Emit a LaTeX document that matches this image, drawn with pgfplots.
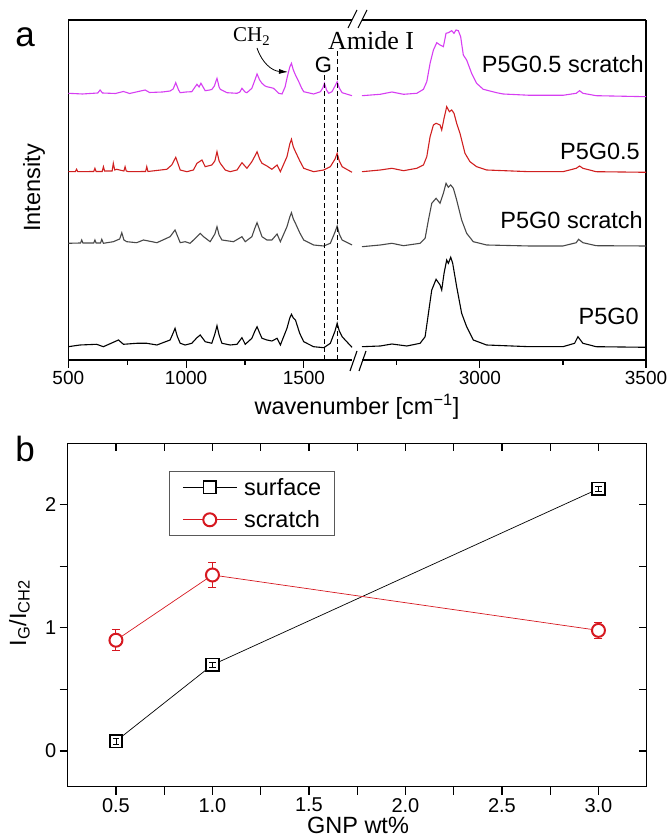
\documentclass[border=0pt]{standalone}
\usepackage{pgfplots}
\pgfplotsset{compat=1.18}
\usepackage{fontspec}
\setmainfont{Liberation Sans}
\newfontfamily\serifA{Liberation Serif}
\usetikzlibrary{arrows.meta}
\definecolor{magen}{RGB}{214,62,242}
\definecolor{redA}{RGB}{208,32,32}
\definecolor{grayA}{RGB}{72,72,72}
\definecolor{redB}{RGB}{214,24,32}
\newcommand\fs[1]{\fontsize{#1}{#1}\selectfont}
\pgfdeclareplotmark{sqinner}{%
  \pgfpathmoveto{\pgfpoint{0pt}{-0.5\pgfplotmarksize}}\pgfpathlineto{\pgfpoint{0pt}{0.5\pgfplotmarksize}}%
  \pgfpathmoveto{\pgfpoint{-0.5\pgfplotmarksize}{0.45\pgfplotmarksize}}\pgfpathlineto{\pgfpoint{0.5\pgfplotmarksize}{0.45\pgfplotmarksize}}%
  \pgfpathmoveto{\pgfpoint{-0.5\pgfplotmarksize}{-0.45\pgfplotmarksize}}\pgfpathlineto{\pgfpoint{0.5\pgfplotmarksize}{-0.45\pgfplotmarksize}}%
  \pgfusepathqstroke
}
\pgfplotsset{
  spec/.style={line width=1.1pt},
  /pgf/number format/1000 sep={},
}
\begin{document}
\begin{tikzpicture}[x=1pt,y=1pt]
\useasboundingbox (0,0) rectangle (670,838);

% ---------------- panel a, left part ----------------
\begin{axis}[
  at={(68.3pt,478pt)}, anchor=south west, scale only axis,
  width=283.7pt, height=340pt,
  xmin=500, xmax=1704, ymin=0, ymax=340, clip=false,
  axis x line*=bottom, axis y line*=left,
  axis line style={-, line width=1.3pt},
  xtick={500,1000,1500}, minor xtick={750,1250}, ytick=\empty,
  tick align=outside, major tick length=8pt, minor tick length=5pt,
  tick style={line width=1.1pt, black},
  xticklabel style={font=\fs{19}},
  /pgf/number format/assume math mode=true,
  scaled x ticks=false,
]
\draw[line width=1.3pt] (rel axis cs:0,1) -- (rel axis cs:1,1);
% P5G0.5 scratch
\addplot[spec, magen] coordinates {
(500,266.7)(560,266.0)(625,267)(635,270)(645,267)(700,266.5)(734,268.5)(760,266.5)(826,270)(845,267.5)(900,268)
(932,269)(945,271)(956,277.3)(968,270)(975,267.3)(1000,268)(1024,268.3)(1046,275.7)(1055,273)(1063,276.7)
(1081,269.3)(1100,270)(1109,270.5)(1120,274)(1131,281.7)(1140,273)(1145,270.7)(1173,267.3)(1216,266.7)
(1228,268)(1237,271.7)(1250,268)(1258,267.3)(1279,271.7)(1292,280)(1301,286)(1312,280)(1322,276.7)(1335,274)
(1343,273.3)(1371,271.7)(1393,266.7)(1407,266)(1420,273)(1428,281.7)(1440,293)(1447,296.7)(1455,290)(1464,285)
(1478,278.3)(1490,272)(1499,268.3)(1541,266)(1570,268.3)(1580,272)(1587,276.7)(1596,270)(1605,266.7)(1619,268.3)
(1632,274)(1641,278.3)(1650,272)(1662,267.3)(1704,264.3)};
% P5G0.5
\addplot[spec, redA] coordinates {
(500,188.3)(530,188.3)(535,190.7)(540,188.3)(608,188.5)(613,191.7)(618,188.5)(644,188.5)(649,193.3)(654,189)
(686,189)(691,196.7)(697,190)(705,190.7)(736,189)(741,193.3)(746,189)(755,188.3)(828,188.5)(833,193.3)(838,188.5)
(918,190.7)(939,195)(956,202.7)(975,190)(1003,188.3)(1031,190)(1046,196.7)(1067,200)(1081,193.3)(1109,195)
(1122,199)(1131,208.3)(1140,199)(1145,196.7)(1166,190)(1187,188.3)(1216,190)(1237,197.3)(1258,191.7)(1279,198.3)
(1292,204)(1301,208.3)(1312,201)(1322,196.7)(1343,194)(1364,190.7)(1386,195)(1400,188.3)(1428,203.3)(1440,216)
(1447,220.7)(1455,213)(1464,208.3)(1482,199.3)(1499,191.7)(1541,188.3)(1584,190)(1612,193.3)(1632,201)(1641,206.7)
(1650,199)(1662,193.3)(1704,187.7)};
% P5G0 scratch
\addplot[spec, grayA] coordinates {
(500,116.7)(552,117)(557,120)(562,117)(608,117)(613,120)(618,117)(637,117)(642,120.7)(649,116.7)(691,118.3)
(718,121)(727,127.3)(736,120)(748,118.3)(790,117.3)(819,120)(876,117.3)(932,123.3)(953,130)(975,117.3)(996,118.3)
(1017,116.7)(1046,123.3)(1060,126.7)(1074,123.3)(1102,118.3)(1122,126)(1131,133.3)(1140,125)(1152,120)(1201,118.3)
(1237,123.3)(1251,118.3)(1279,123.3)(1292,132)(1301,137.3)(1312,130)(1322,123.3)(1343,120)(1364,120)(1386,126)
(1400,118.3)(1428,133.3)(1440,143)(1447,147.3)(1455,141)(1464,136.7)(1482,127.3)(1499,120)(1541,115)(1584,114)
(1612,116.7)(1632,128)(1641,134)(1650,126)(1662,120)(1704,115)};
% P5G0
\addplot[spec, black] coordinates {
(500,13.3)(550,15)(620,15.7)(649,13.3)(713,20)(734,15.7)(790,16.7)(833,16.7)(876,15)(932,20)(945,27)(953,31.7)
(962,24)(975,16.7)(996,15)(1024,16.7)(1046,22.3)(1060,25)(1081,18.3)(1109,16.7)(1122,26)(1131,34.3)(1140,25)
(1152,16.7)(1187,15)(1216,15.7)(1237,22.3)(1251,15.7)(1279,21.7)(1292,29)(1301,33.3)(1312,27)(1322,21.7)(1343,20)
(1364,19)(1386,21.7)(1400,15)(1428,31.7)(1440,42)(1447,45.7)(1455,42)(1464,40)(1482,26.7)(1499,18.3)(1541,13.3)
(1584,12.3)(1612,16.7)(1632,29)(1641,36.7)(1650,29)(1662,23.3)(1704,12.7)};
\draw[dashed, dash pattern=on 5pt off 3pt, line width=1.1pt] (axis cs:1587,0) -- (axis cs:1587,288);
\draw[dashed, dash pattern=on 5pt off 3pt, line width=1.1pt] (axis cs:1643,0) -- (axis cs:1643,310);
\end{axis}

% ---------------- panel a, right part ----------------
\begin{axis}[
  at={(362pt,478pt)}, anchor=south west, scale only axis,
  width=284pt, height=340pt,
  xmin=2645, xmax=3500, ymin=0, ymax=340, clip=false,
  axis x line*=bottom, axis y line*=right,
  axis line style={-, line width=1.3pt},
  xtick={3000,3500}, minor xtick={2750,3250}, ytick=\empty,
  tick align=outside, major tick length=8pt, minor tick length=5pt,
  tick style={line width=1.1pt, black},
  xticklabel style={font=\fs{19}},
  /pgf/number format/assume math mode=true,
  scaled x ticks=false,
]
\draw[line width=1.3pt] (rel axis cs:0,1) -- (rel axis cs:1,1);
\addplot[spec, magen] coordinates {
(2645,264.3)(2700,265.7)(2735,268)(2770,265.7)(2810,266.7)(2830,270.7)(2840,278.3)(2850,296.7)(2860,310)(2870,317.3)
(2880,315)(2890,313.3)(2898,326.7)(2905,327.3)(2915,329.3)(2922,326.7)(2928,330)(2935,329.3)(2942,323.3)(2950,305)
(2960,300)(2975,286.7)(2990,276.7)(3010,270.7)(3050,267.3)(3070,266)(3150,264.7)(3250,264.7)(3290,266.7)(3300,269.3)
(3310,266.7)(3350,264.3)(3500,263.3)};
\addplot[spec, redA] coordinates {
(2645,188.3)(2700,190)(2735,191.7)(2770,189.3)(2810,191.7)(2830,195)(2840,203.3)(2850,223.3)(2860,235)(2868,236.7)
(2880,235)(2885,230)(2892,241.7)(2900,253.3)(2908,248.3)(2915,250)(2922,246.7)(2930,236.7)(2940,226.7)(2955,206.7)
(2970,198.3)(2990,193.3)(3020,190)(3150,188.3)(3250,188.3)(3290,191.7)(3300,194)(3310,191.7)(3350,188.3)(3500,187.7)};
\addplot[spec, grayA] coordinates {
(2645,113.3)(2700,115)(2735,116.7)(2770,114.3)(2820,116.7)(2835,121.7)(2845,140)(2855,156.7)(2868,161.7)(2880,156.7)
(2890,166.7)(2898,176.7)(2905,172.7)(2912,175)(2920,171.7)(2930,160)(2945,140)(2960,126.7)(2980,118.3)(3020,115)
(3150,114)(3250,114)(3290,117.3)(3297,120.7)(3310,117.3)(3350,114.3)(3500,114)};
\addplot[spec, black] coordinates {
(2645,13.3)(2700,14)(2735,16)(2780,14)(2820,16.7)(2835,23.3)(2845,46.7)(2855,70)(2868,80.7)(2880,75)(2885,70)
(2892,86.7)(2900,100)(2905,96.7)(2912,102.7)(2918,96.7)(2930,73.3)(2945,46.7)(2960,33.3)(2980,20)(3020,15)
(3150,13.3)(3250,13.3)(3285,16.7)(3295,23.3)(3310,16.7)(3350,13.3)(3500,12.7)};
\end{axis}

% break marks
\draw[line width=1.1pt] (348,810) -- (357,828) (358,810) -- (367,828);
\draw[line width=1.1pt] (350,467) -- (357,487) (359,467) -- (366,487);

% annotations panel a
\node[anchor=base, font=\fs{35}] at (25,791) {a};
\node[anchor=base west, font={\serifA\fs{21}}, inner sep=0pt] at (233,796) {CH\textsubscript{2}};
\draw[line width=0.8pt, -{Latex[length=9pt,width=5pt]}] (257,790) .. controls (262,775) and (272,767) .. (288,766);
\node[anchor=base west, font={\serifA\fs{26}}, inner sep=0pt] at (328,788) {Amide I};
\node[anchor=base, font=\fs{22}, inner sep=0pt] at (323.5,765.3) {G};
\node[anchor=base east, font=\fs{23.5}, inner sep=0pt] at (644,765.3) {P5G0.5 scratch};
\node[anchor=base east, font=\fs{23.5}, inner sep=0pt] at (640,678) {P5G0.5};
\node[anchor=base east, font=\fs{23.5}, inner sep=0pt] at (643,609.7) {P5G0 scratch};
\node[anchor=base east, font=\fs{23.5}, inner sep=0pt] at (639,513) {P5G0};
\node[rotate=90, anchor=base, font=\fs{23.5}, inner sep=0pt] at (40,650) {Intensity};
\node[anchor=base, font=\fs{23.5}, inner sep=0pt] at (357,423) {wavenumber [cm\textsuperscript{−1}]};

% ---------------- panel b ----------------
\begin{axis}[
  at={(67.7pt,51.3pt)}, anchor=south west, scale only axis,
  width=579pt, height=343.4pt,
  xmin=0.25, xmax=3.25, ymin=-0.29, ymax=2.5,
  axis line style={line width=1.3pt},
  xtick={0.5,1,1.5,2,2.5,3}, minor xtick={0.75,1.25,1.75,2.25,2.75},
  ytick={0,1,2}, minor ytick={0.5,1.5},
  xtick pos=bottom, ytick pos=left,
  tick align=outside, major tick length=8pt, minor tick length=8pt,
  tick style={line width=1.1pt, black},
  xticklabel style={font=\fs{20}, /pgf/number format/.cd, fixed, fixed zerofill, precision=1},
  yticklabel style={font=\fs{20}},
  /pgf/number format/assume math mode=true,
  legend style={at={(0.175,0.919)}, anchor=north west, draw=black!65, line width=0.8pt,
    font=\fs{23.5}, row sep=14pt, column sep=7pt, inner xsep=13pt, inner ysep=6.5pt,
    nodes={inner sep=0pt}},
  legend cell align=left,
  legend image code/.code={\draw[mark repeat=2, mark phase=2, #1] plot coordinates {(0pt,0pt) (27pt,0pt) (54pt,0pt)};},
]
\addplot[black, line width=0.7pt, mark=square*, mark options={fill=white, line width=1.7pt, mark size=6.3pt, solid}]
  coordinates {(0.5,0.08) (1.0,0.70) (3.0,2.13)};
\addlegendentry{surface}
\addplot[redB, line width=0.7pt, mark=*, mark options={fill=white, line width=2pt, mark size=6.5pt, solid},
  error bars/.cd, y dir=both, y explicit, error bar style={line width=1pt, redB},
  error mark options={rotate=90, mark size=4pt, line width=1pt, redB}]
  coordinates {(0.5,0.90) +- (0,0.087) (1.0,1.43) +- (0,0.105) (3.0,0.98) +- (0,0.065)};
\addlegendentry{scratch}
\addplot[forget plot, black, only marks, mark=sqinner, mark options={line width=0.8pt, mark size=6.3pt, solid}]
  coordinates {(0.5,0.08) (1.0,0.70) (3.0,2.13)};
\end{axis}
\begin{axis}[
  at={(67.7pt,51.3pt)}, anchor=south west, scale only axis,
  width=579pt, height=343.4pt,
  xmin=0.25, xmax=3.25, ymin=-0.29, ymax=2.5,
  axis line style={line width=1.3pt},
  xtick={0.5,1,1.5,2,2.5,3}, minor xtick={0.75,1.25,1.75,2.25,2.75},
  ytick={0,1,2}, minor ytick={0.5,1.5},
  xtick pos=top, ytick pos=right, xticklabels={}, yticklabels={},
  tick align=inside, major tick length=8pt, minor tick length=8pt,
  tick style={line width=1.1pt, black},
]
\end{axis}
\node[rotate=90, anchor=base, font=\fs{23.5}, inner sep=0pt] at (26,225) {I\textsubscript{G}/I\textsubscript{CH2}};
\node[anchor=base, font=\fs{23.5}, inner sep=0pt] at (358,5) {GNP wt\%};
\node[anchor=base, font=\fs{35}] at (25,376) {b};
\end{tikzpicture}
\end{document}
